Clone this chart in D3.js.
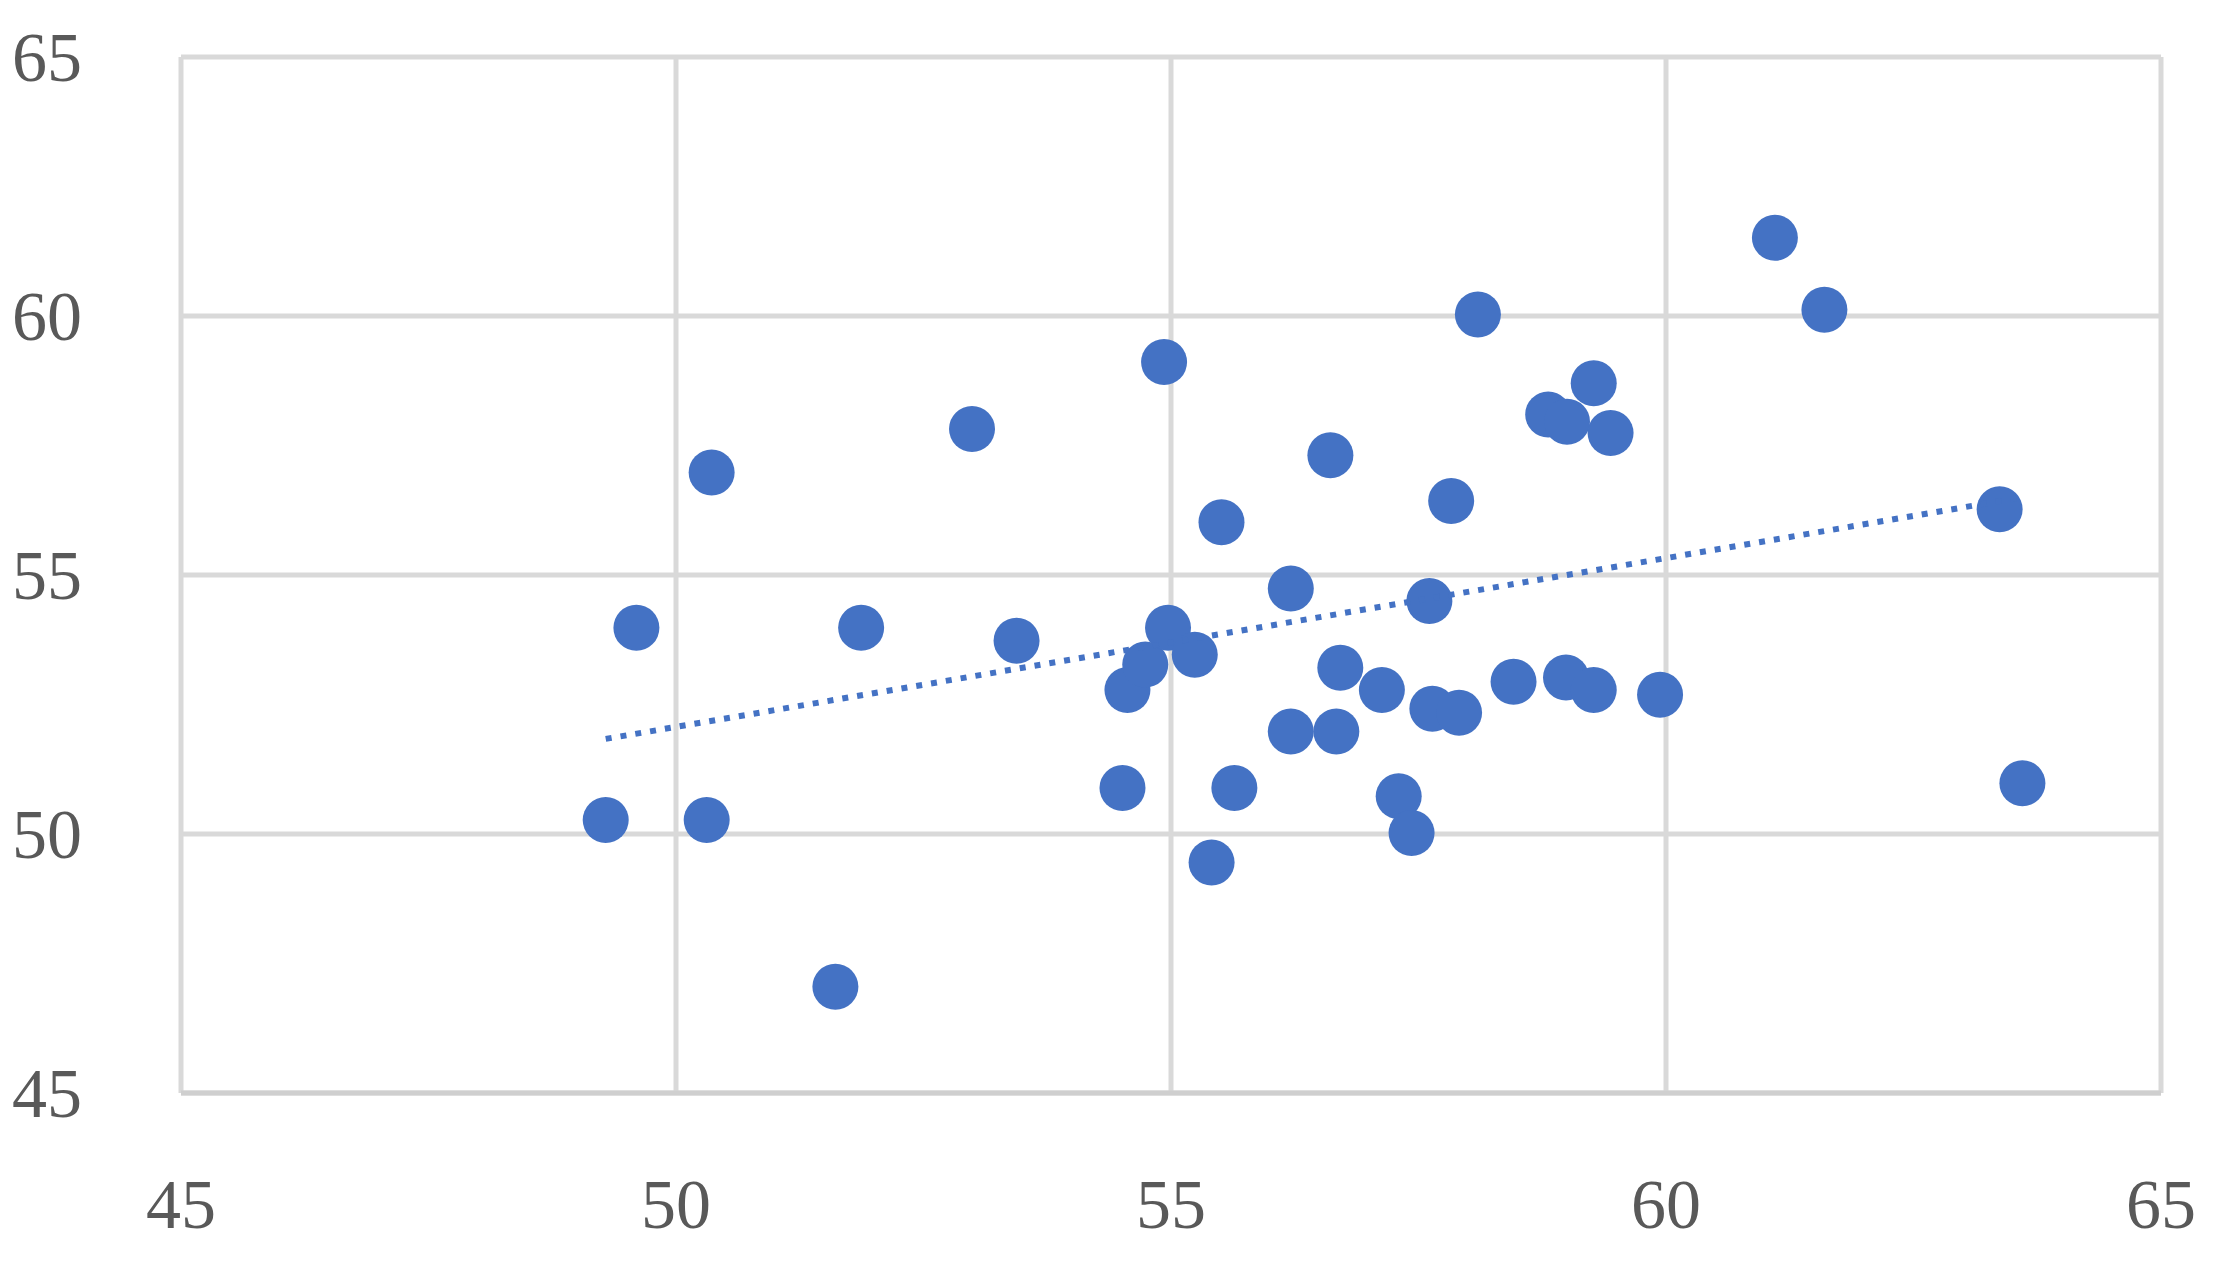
<!DOCTYPE html>
<html>
<head>
<meta charset="utf-8">
<script src="https://cdn.jsdelivr.net/npm/d3@7"></script>
<style>
  body { margin: 0; background: #fff; }
</style>
</head>
<body>
<script>
// values
var xValues = [49.29, 49.6, 50.31, 50.36, 51.61, 51.87, 52.99, 53.44, 54.51, 54.56, 54.74,
  54.93, 54.97, 55.24, 55.41, 55.51, 55.64, 56.21, 56.21, 56.61, 56.67, 56.71, 57.13, 57.3,
  57.43, 57.61, 57.64, 57.83, 57.91, 58.1, 58.46, 58.81, 59.0, 58.99, 59.27, 59.27, 59.44,
  59.94, 61.1, 61.6, 63.37, 63.6];
var yValues = [50.27, 53.98, 50.27, 56.98, 47.05, 53.98, 57.82, 53.73, 50.89, 52.78, 53.27,
  59.11, 53.98, 53.46, 49.45, 56.02, 50.89, 54.74, 51.98, 57.31, 51.98, 53.21, 52.78, 50.73,
  50.02, 54.5, 52.42, 56.43, 52.34, 60.03, 52.94, 58.1, 57.96, 53.02, 58.7, 52.78, 57.74,
  52.69, 61.51, 60.12, 56.27, 50.98];
var xTicks = [45, 50, 55, 60, 65];
var yTicks = [45, 50, 55, 60, 65];

var width = 2217, height = 1264;
var plotLeft = 181, plotRight = 2161, plotTop = 57, plotBottom = 1093;

var svg = d3.select("body").append("svg")
  .attr("width", width).attr("height", height);

var x = d3.scaleLinear().domain([45, 65]).range([plotLeft, plotRight]);
var y = d3.scaleLinear().domain([45, 65]).range([plotBottom, plotTop]);

// gridlines
svg.selectAll("line.vx").data(xTicks).enter().append("line")
  .attr("x1", d => x(d)).attr("x2", d => x(d))
  .attr("y1", plotTop).attr("y2", plotBottom)
  .attr("stroke", "#d9d9d9").attr("stroke-width", 5);
svg.selectAll("line.hy").data(yTicks).enter().append("line")
  .attr("x1", plotLeft).attr("x2", plotRight)
  .attr("y1", d => y(d)).attr("y2", d => y(d))
  .attr("stroke", "#d9d9d9").attr("stroke-width", 5);
svg.append("line").attr("x1", plotLeft).attr("x2", plotRight)
  .attr("y1", plotBottom).attr("y2", plotBottom)
  .attr("stroke", "#cfcfcf").attr("stroke-width", 5);

// tick labels
svg.selectAll("text.xl").data(xTicks).enter().append("text")
  .attr("x", d => x(d)).attr("y", 1228)
  .attr("text-anchor", "middle")
  .style("font-family", "Liberation Serif").style("font-size", "70px")
  .style("fill", "#595959").text(d => d);
svg.selectAll("text.yl").data(yTicks).enter().append("text")
  .attr("x", 12).attr("y", d => y(d) + 24)
  .style("font-family", "Liberation Serif").style("font-size", "70px")
  .style("fill", "#595959").text(d => d);

// points
var pts = xValues.map((v, i) => ({x: v, y: yValues[i]}));
svg.selectAll("circle").data(pts).enter().append("circle")
  .attr("cx", d => x(d.x)).attr("cy", d => y(d.y)).attr("r", 23)
  .attr("fill", "#4472C4");

// linear trendline (least squares)
var mx = d3.mean(xValues), my = d3.mean(yValues);
var b = d3.sum(pts, d => (d.x - mx) * (d.y - my)) / d3.sum(pts, d => (d.x - mx) * (d.x - mx));
var a = my - b * mx;
var x0 = d3.min(xValues), x1 = d3.max(xValues);
svg.append("line")
  .attr("x1", x(x0)).attr("y1", y(a + b * x0))
  .attr("x2", x(x1)).attr("y2", y(a + b * x1))
  .attr("stroke", "#4472C4").attr("stroke-width", 6)
  .attr("stroke-dasharray", "6,9");
</script>
</body>
</html>
